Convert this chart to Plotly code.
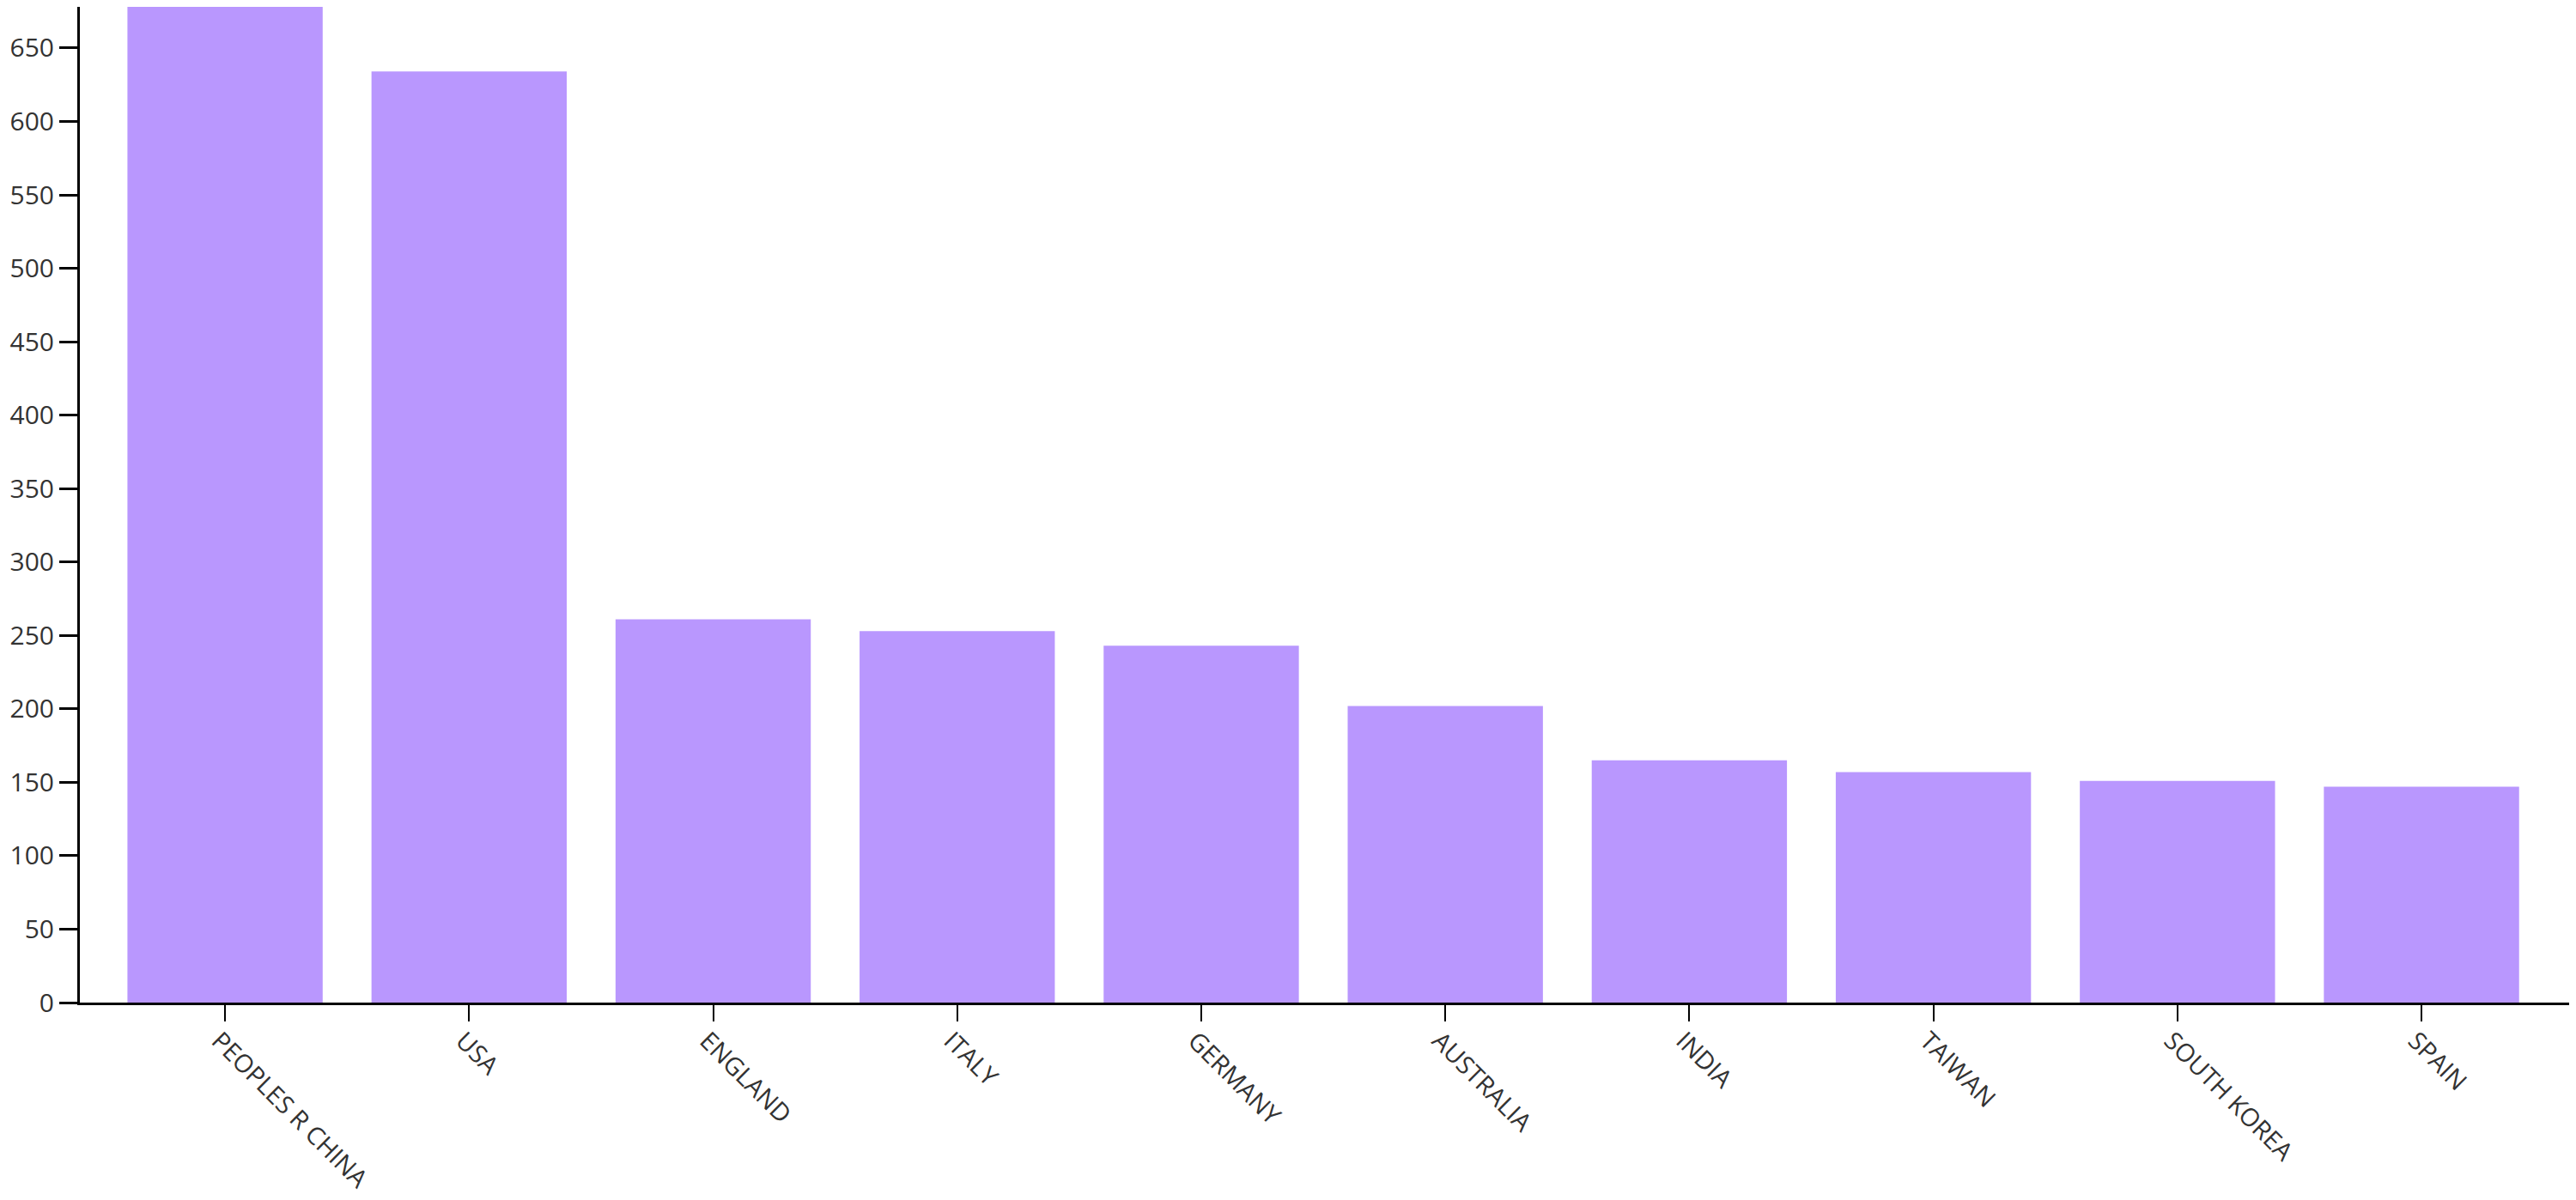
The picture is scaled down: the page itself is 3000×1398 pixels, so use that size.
import plotly.graph_objects as go

countries = ["PEOPLES R CHINA", "USA", "ENGLAND", "ITALY", "GERMANY",
             "AUSTRALIA", "INDIA", "TAIWAN", "SOUTH KOREA", "SPAIN"]
counts = [678, 634, 261, 253, 243, 202, 165, 157, 151, 147]
y_ticks = list(range(0, 700, 50))

fig = go.Figure(go.Bar(
    x=countries, y=counts,
    marker=dict(color="#b997fe", line=dict(width=0)),
))

# page body has an 8px margin, so the figure is offset by 8px
fig.update_layout(
    width=2992, height=1390,
    margin=dict(l=85, r=8, t=0, b=230, pad=0),
    plot_bgcolor="white", paper_bgcolor="white",
    bargap=0.2,
    showlegend=False,
    font=dict(family="Open Sans", color="#333333"),
)
fig.update_xaxes(
    type="category",
    range=[-0.595, 9.605],
    showline=True, linecolor="black", linewidth=3,
    ticks="outside", ticklen=19, tickwidth=2, tickcolor="black",
    tickangle=45, tickfont=dict(size=29, color="#333333"),
    ticklabelstandoff=-6, ticklabelshift=-7,
    showgrid=False, zeroline=False, automargin=False,
)
fig.update_yaxes(
    range=[0, 678],
    tickvals=y_ticks,
    showline=True, linecolor="black", linewidth=3,
    ticks="outside", ticklen=21, tickwidth=3, tickcolor="black",
    tickfont=dict(size=30, color="#333333"),
    showgrid=False, zeroline=False, automargin=False,
)

fig.write_html("out.html")
